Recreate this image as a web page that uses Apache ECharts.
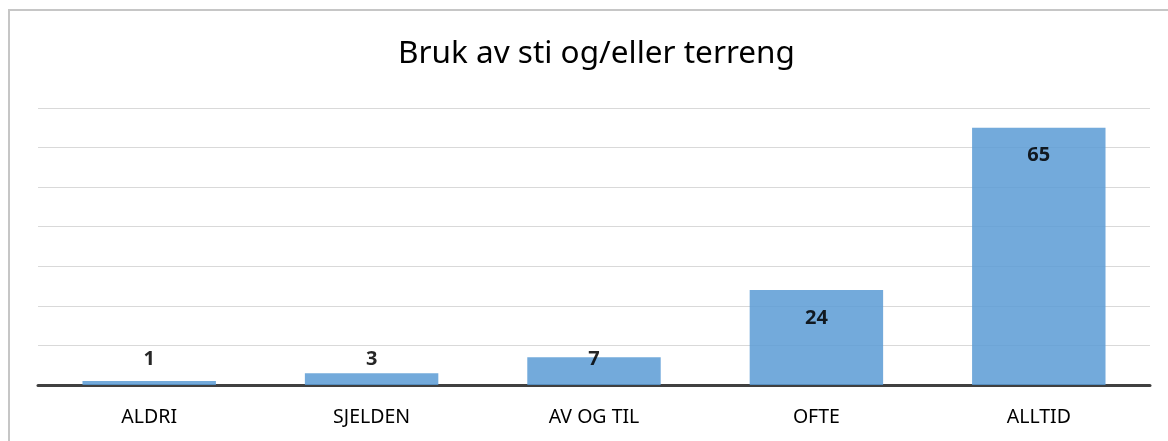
<!DOCTYPE html>
<html>
<head>
<meta charset="utf-8">
<script src="https://cdn.jsdelivr.net/npm/echarts@6/dist/echarts.min.js"></script>
<style>
html,body{margin:0;padding:0;background:#fff;overflow:hidden;}
#wrap{position:relative;width:1168px;height:441px;}
#c{position:absolute;left:0;top:0;width:1168px;height:441px;}
#frame{position:absolute;left:8px;top:9px;right:0;bottom:0;border-left:2px solid #c6c6c6;border-top:2px solid #c6c6c6;pointer-events:none;}
</style>
</head>
<body>
<div id="wrap"><div id="c"></div><div id="frame"></div></div>
<script>
const titleText = 'Bruk av sti og/eller terreng';
const categories = ['ALDRI', 'SJELDEN', 'AV OG TIL', 'OFTE', 'ALLTID'];
const values = [1, 3, 7, 24, 65];
const yMax = 70;
const yInterval = 10;

const chart = echarts.init(document.getElementById('c'), null, {renderer: 'canvas'});
const font = '"Noto Sans", "Open Sans", sans-serif';
chart.setOption({
  animation: false,
  backgroundColor: '#fff',
  title: {
    text: titleText,
    left: 393,
    top: 33,
    textStyle: {fontFamily: font, fontSize: 31.5, fontWeight: 'normal', color: '#000'}
  },
  grid: {left: 38, right: 18, top: 108, bottom: 56, containLabel: false},
  xAxis: {
    type: 'category',
    data: categories,
    axisLine: {lineStyle: {color: '#404040', width: 3}},
    axisTick: {show: false},
    axisLabel: {fontFamily: font, fontSize: 19.5, color: '#000', margin: 22}
  },
  yAxis: {
    type: 'value',
    min: 0,
    max: yMax,
    interval: yInterval,
    axisLine: {show: false},
    axisTick: {show: false},
    axisLabel: {show: false},
    splitLine: {lineStyle: {color: '#d9d9d9', width: 1}}
  },
  series: [{
    type: 'bar',
    barWidth: '60%',
    itemStyle: {color: '#5B9BD5', opacity: 0.85},
    data: values.map(v => ({
      value: v,
      label: v < 10
        ? {position: 'insideBottom', distance: 16}
        : {position: 'insideTop', distance: 18}
    })),
    label: {
      show: true,
      fontFamily: font,
      fontSize: 20,
      fontWeight: 'bold',
      color: '#000'
    }
  }]
});
</script>
</body>
</html>
